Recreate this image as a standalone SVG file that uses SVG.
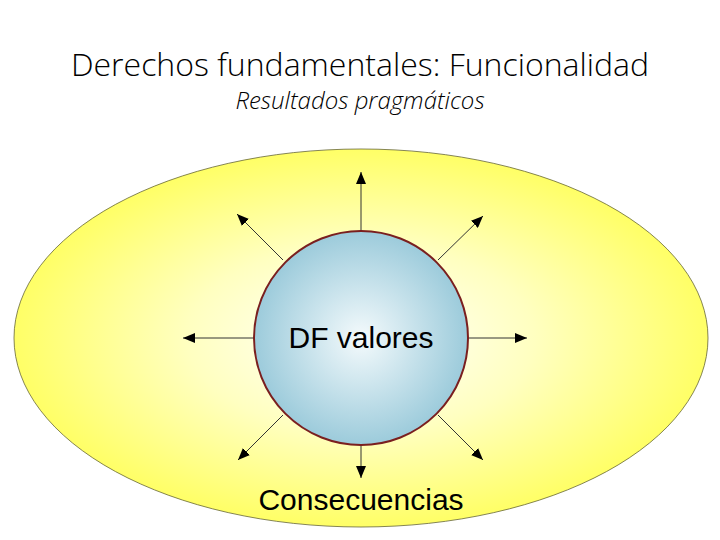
<svg xmlns="http://www.w3.org/2000/svg" width="720" height="540" viewBox="0 0 720 540">
<defs>
<radialGradient id="gY" cx="50%" cy="50%" r="50%">
<stop offset="0" stop-color="#ffffff"/>
<stop offset="0.5" stop-color="#ffffc0"/>
<stop offset="1" stop-color="#ffff66"/>
</radialGradient>
<radialGradient id="gB" cx="50%" cy="50%" r="50%">
<stop offset="0" stop-color="#f4fafc"/>
<stop offset="1" stop-color="#9ccbdb"/>
</radialGradient>
<marker id="ah" viewBox="0 0 12 10" refX="12" refY="5" markerWidth="12" markerHeight="10" markerUnits="userSpaceOnUse" orient="auto">
<path d="M0,0 L12,5 L0,10 Z" fill="#000"/>
</marker>
<style>
.title{font-family:"Open Sans","Liberation Sans",sans-serif;font-weight:300;fill:#000}
.lbl{font-family:"Liberation Sans",Arial,sans-serif;font-size:30px;fill:#000;text-anchor:middle}
.c{stroke:#333;stroke-width:1;fill:none;marker-end:url(#ah)}
</style>
</defs>
<rect width="720" height="540" fill="#fff"/>
<text class="title" x="360" y="76" font-size="32" text-anchor="middle">Derechos fundamentales: Funcionalidad</text>
<text class="title" x="360" y="109" font-size="24" font-style="italic" text-anchor="middle">Resultados pragmáticos</text>
<g id="outer">
<ellipse cx="361" cy="338" rx="347" ry="189" fill="url(#gY)" stroke="#666633" stroke-width="0.8"/>
<text class="lbl" x="361" y="510">Consecuencias</text>
</g>
<g id="connectors">
<line class="c" x1="361" y1="231" x2="361" y2="172"/>
<line class="c" x1="361" y1="445" x2="361" y2="478"/>
<line class="c" x1="254" y1="338" x2="183" y2="338"/>
<line class="c" x1="468" y1="338" x2="527" y2="338"/>
<line class="c" x1="283" y1="260" x2="237" y2="214"/>
<line class="c" x1="438" y1="260" x2="483" y2="216"/>
<line class="c" x1="283" y1="415" x2="238" y2="460"/>
<line class="c" x1="438" y1="415" x2="483" y2="460"/>
</g>
<g id="core">
<circle cx="361" cy="338" r="107" fill="url(#gB)" stroke="#7a1f1f" stroke-width="2"/>
<text class="lbl" x="361" y="348">DF valores</text>
</g>
</svg>
